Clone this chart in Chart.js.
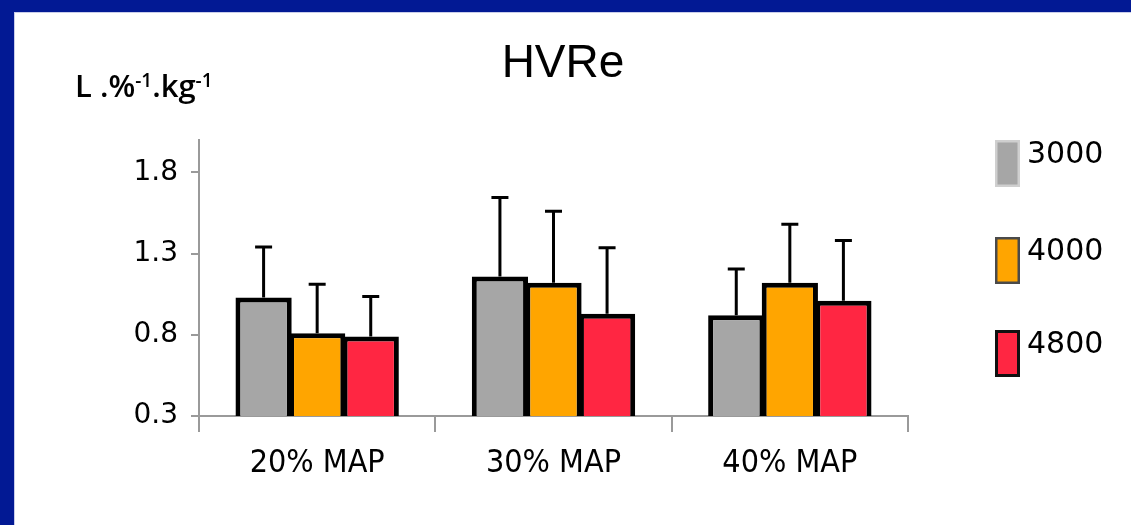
<!DOCTYPE html>
<html><head><meta charset="utf-8">
<script src="https://cdn.jsdelivr.net/npm/chart.js@4/dist/chart.umd.min.js"></script>
<style>html,body{margin:0;padding:0;background:#fff;overflow:hidden}canvas{display:block}</style>
</head><body>
<canvas id="c" width="1131" height="525"></canvas>
<script>
// ---- data ----
const categories = ['20% MAP', '30% MAP', '40% MAP'];
const seriesNames = ['3000', '4000', '4800'];
const mean3000 = [1.03, 1.16, 0.92];
const mean4000 = [0.81, 1.12, 1.12];
const mean4800 = [0.79, 0.93, 1.01];
const err3000 = [0.32, 0.495, 0.295];
const err4000 = [0.31, 0.45, 0.37];
const err4800 = [0.255, 0.415, 0.38];
const yTicks = [0.3, 0.8, 1.3, 1.8];
const chartTitle = 'HVRe';
const yLabelParts = [['L .%', false], ['-1', true], ['.kg', false], ['-1', true]];

// ---- styles ----
const fills = ['#a6a6a6', '#ffa500', '#ff2642'];
const legendBorders = ['#cfcfcf', '#4a4a4a', '#111111'];
const means = [mean3000, mean4000, mean4800];
const errs = [err3000, err4000, err4800];

const datasets = seriesNames.map((n, i) => ({
  label: n,
  data: means[i],
  errors: errs[i],
  backgroundColor: fills[i],
  borderColor: '#000',
  borderWidth: 5,
  borderSkipped: false,
  categoryPercentage: 0.68,
  barPercentage: 1.05
}));

const decor = {
  id: 'decor',
  beforeDraw(chart) {
    const ctx = chart.ctx;
    ctx.save();
    ctx.fillStyle = '#fff';
    ctx.fillRect(0, 0, chart.width, chart.height);
    ctx.fillStyle = '#c9cdea';
    ctx.fillRect(0, 0, chart.width, 13);
    ctx.fillRect(0, 0, 15, chart.height);
    ctx.fillStyle = '#021994';
    ctx.fillRect(0, 0, chart.width, 12);
    ctx.fillRect(0, 0, 14, chart.height);
    ctx.restore();
  },
  afterDatasetsDraw(chart) {
    const ctx = chart.ctx, ys = chart.scales.y;
    ctx.save();
    ctx.strokeStyle = '#000';
    ctx.lineWidth = 3;
    chart.data.datasets.forEach((ds, i) => {
      chart.getDatasetMeta(i).data.forEach((bar, j) => {
        const top = ys.getPixelForValue(ds.data[j] + ds.errors[j]) + 1.5;
        ctx.beginPath();
        ctx.moveTo(bar.x, bar.y);
        ctx.lineTo(bar.x, top);
        ctx.moveTo(bar.x - 8.5, top);
        ctx.lineTo(bar.x + 8.5, top);
        ctx.stroke();
      });
    });
    ctx.restore();
  },
  afterDraw(chart) {
    const ctx = chart.ctx;
    ctx.save();
    ctx.fillStyle = '#000';
    // title
    ctx.font = '46px "Liberation Sans", Arial, sans-serif';
    ctx.textAlign = 'center';
    ctx.textBaseline = 'alphabetic';
    ctx.fillText(chartTitle, 563, 77);
    // y axis unit label
    ctx.textAlign = 'left';
    let x = 75;
    yLabelParts.forEach(([t, sup]) => {
      ctx.font = sup ? '600 19px "Open Sans", sans-serif' : '600 31px "Open Sans", sans-serif';
      ctx.fillText(t, x, sup ? 87 : 97);
      x += ctx.measureText(t).width;
    });
    // legend
    const boxTops = [140, 237, 330];
    chart.data.datasets.forEach((ds, i) => {
      const bt = boxTops[i];
      ctx.fillStyle = legendBorders[i];
      ctx.fillRect(995, bt, 25, 47);
      ctx.fillStyle = ds.backgroundColor;
      const inset = i === 2 ? 3 : 2.5;
      ctx.fillRect(995 + inset, bt + inset, 25 - 2 * inset, 47 - 2 * inset);
      ctx.fillStyle = '#000';
      ctx.font = '30px "DejaVu Sans", sans-serif';
      ctx.fillText(ds.label, 1027, bt + 23);
    });
    ctx.restore();
  }
};

new Chart(document.getElementById('c'), {
  type: 'bar',
  data: { labels: categories, datasets },
  plugins: [decor],
  options: {
    responsive: false,
    devicePixelRatio: 1,
    animation: false,
    layout: { padding: { left: 14, top: 140, right: 223, bottom: 0 } },
    plugins: { legend: { display: false }, title: { display: false }, tooltip: { enabled: false } },
    scales: {
      x: {
        afterFit(s) { s.height = 109; },
        border: { color: '#9a9a9a', width: 2 },
        grid: { offset: true, drawOnChartArea: false, tickLength: 16, color: '#9a9a9a', lineWidth: 2 },
        ticks: { color: '#000', padding: 12, font: { family: '"DejaVu Sans Condensed", "Liberation Sans Narrow", sans-serif', size: 32 } }
      },
      y: {
        min: 0.3, max: 2.0,
        afterFit(s) { s.width = 185; },
        afterBuildTicks(s) { s.ticks = yTicks.map(v => ({ value: v })); },
        border: { color: '#9a9a9a', width: 2 },
        grid: { drawOnChartArea: false, tickLength: 8, color: '#9a9a9a', lineWidth: 2 },
        ticks: { color: '#000', padding: 13, font: { family: '"DejaVu Sans", sans-serif', size: 28 }, callback: v => v.toFixed(1) }
      }
    }
  }
});
</script>
</body></html>
